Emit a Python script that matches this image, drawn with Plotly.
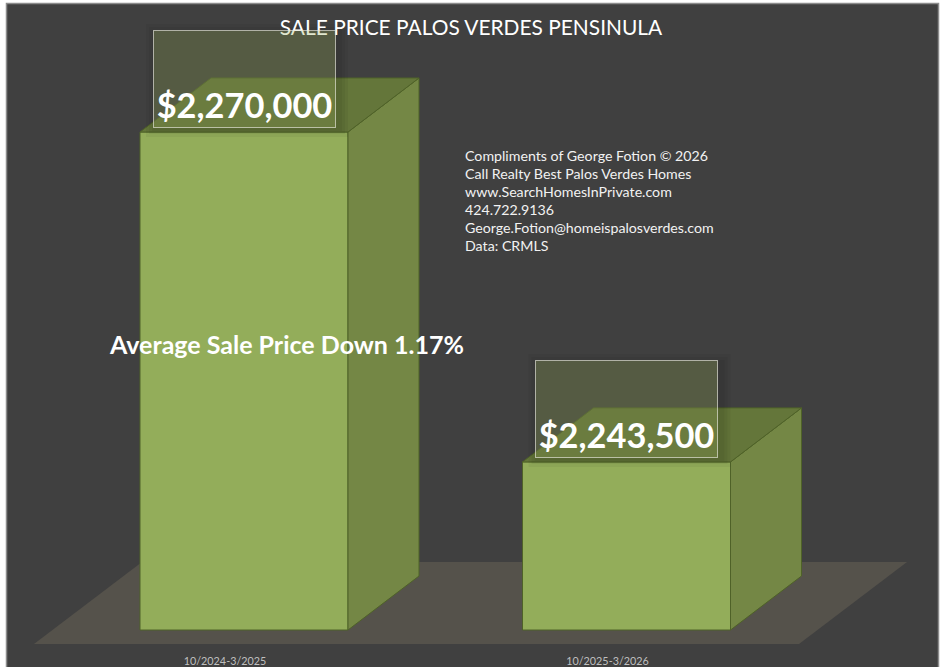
import plotly.graph_objects as go

# Data
categories = ["10/2024-3/2025", "10/2025-3/2026"]
sale_prices = [2270000, 2243500]
price_labels = ["$2,270,000", "$2,243,500"]
chart_title = "SALE PRICE PALOS VERDES PENSINULA"
callout = "Average Sale Price Down 1.17%"
credits = [
    "Compliments of George Fotion © 2026",
    "Call Realty Best Palos Verdes Homes",
    "www.SearchHomesInPrivate.com",
    "424.722.9136",
    "George.Fotion@homeispalosverdes.com",
    "Data: CRMLS",
]

# Value axis baseline of the original truncated chart
AXIS_MIN = 2230000

# Canvas and pseudo-3D geometry
W, H = 945, 667
BOTTOM = 17
PLOT_H = H - BOTTOM
BASE_PX = 630          # pixel row of the baseline
C0_PX, STEP_PX = 244.0, 382.5   # centre of the first bar, bar spacing
PX_PER_USD = 498 / (sale_prices[0] - AXIS_MIN)
BAR_W = 208 / STEP_PX
DX = 71 / STEP_PX
DY = 54 / PX_PER_USD
LABEL_SHIFT = 19 / STEP_PX

x_range = [(0 - C0_PX) / STEP_PX, (W - C0_PX) / STEP_PX]
y_range = [AXIS_MIN - (PLOT_H - BASE_PX) / PX_PER_USD, AXIS_MIN + BASE_PX / PX_PER_USD]


def px_x(p):
    return (p - C0_PX) / STEP_PX


def px_y(p):
    return AXIS_MIN + (BASE_PX - p) / PX_PER_USD


LINE = "#4F6228"
FRONT = "#93AD5A"
SIDE = "#748745"
TOP = "#64763A"
FLOOR = "#55524B"

fig = go.Figure()

# Front faces
fig.add_trace(go.Bar(
    x=[0, 1],
    y=[v - AXIS_MIN for v in sale_prices],
    base=AXIS_MIN,
    width=BAR_W,
    marker=dict(color=FRONT, line=dict(color=LINE, width=1)),
    hoverinfo="skip", showlegend=False,
))

# Side and top faces derived from each bar's value
for i, v in enumerate(sale_prices):
    l, r = i - BAR_W / 2, i + BAR_W / 2
    fig.add_trace(go.Scatter(
        x=[r, r + DX, r + DX, r, r],
        y=[AXIS_MIN, AXIS_MIN + DY, v + DY, v, AXIS_MIN],
        mode="lines", fill="toself", fillcolor=SIDE, line=dict(color=LINE, width=1),
        hoverinfo="skip", showlegend=False,
    ))
    fig.add_trace(go.Scatter(
        x=[l, r, r + DX, l + DX, l],
        y=[v, v, v + DY, v + DY, v],
        mode="lines", fill="toself", fillcolor=TOP, line=dict(color=LINE, width=1),
        hoverinfo="skip", showlegend=False,
    ))

annotations = []
shapes = [
    dict(
        type="rect", layer="below", xref="paper", yref="paper",
        x0=6.5 / W, x1=938.5 / W, y0=-(BOTTOM + 5) / PLOT_H, y1=1 - 3.5 / PLOT_H,
        fillcolor="#404040", line=dict(color="#8C8C8C", width=1.5),
    ),
    dict(
        type="path", layer="below", xref="x", yref="y",
        path=(f"M {px_x(34)} {px_y(644)} L {px_x(799)} {px_y(644)} "
              f"L {px_x(907)} {px_y(562)} L {px_x(142)} {px_y(562)} Z"),
        fillcolor=FLOOR, line=dict(width=0),
    ),
]

# Value labels in translucent boxes with a soft shadow
for i, (v, t) in enumerate(zip(sale_prices, price_labels)):
    for grow in (3, 6, 9):
        shapes.append(dict(
            type="rect", layer="above", xref="x", yref="y",
            xsizemode="pixel", ysizemode="pixel", xanchor=i, yanchor=v,
            x0=-92 - grow + 3, x1=92 + grow + 3, y0=4 - grow, y1=102 + grow - 3,
            fillcolor="rgba(0,0,0,0.045)", line=dict(width=0),
        ))
    annotations.append(dict(
        x=i, y=v, xref="x", yref="y", xanchor="center", yanchor="bottom",
        yshift=4, text=t, showarrow=False, width=177, height=92, valign="bottom",
        align="center", bgcolor="rgba(155,175,95,0.30)",
        bordercolor="rgba(235,235,225,0.65)", borderwidth=1, borderpad=2,
        font=dict(family="Lato", size=34.4, color="#FFFFFF", weight="bold"),
    ))

annotations.append(dict(
    x=286.5 / W, y=1 - 344 / PLOT_H, xref="paper", yref="paper", text=callout,
    showarrow=False, xanchor="center", yanchor="middle",
    font=dict(family="Lato", size=25, color="#FFFFFF", weight="bold"),
))

for n, line in enumerate(credits):
    annotations.append(dict(
        x=465 / W, y=1 - (155 + n * 18.2) / PLOT_H, xref="paper", yref="paper", text=line,
        showarrow=False, xanchor="left", yanchor="middle", xshift=-2,
        font=dict(family="Lato", size=14.2, color="#F2F2F2"),
    ))

fig.update_layout(
    width=W, height=H,
    margin=dict(l=0, r=0, t=0, b=BOTTOM, pad=0),
    paper_bgcolor="#FFFFFF", plot_bgcolor="rgba(0,0,0,0)",
    barmode="overlay",
    title=dict(text=chart_title, x=471 / W, y=1 - 28 / H, xanchor="center", yanchor="middle",
               font=dict(family="Lato", size=20.9, color="#FFFFFF")),
    xaxis=dict(range=x_range, tickvals=[i - LABEL_SHIFT for i in range(len(categories))],
               ticktext=categories, showgrid=False,
               zeroline=False, showline=False, ticks="", ticklen=0, ticklabelstandoff=3,
               tickfont=dict(family="Lato", size=10.8, color="#BFBFBF")),
    yaxis=dict(range=y_range, visible=False, showgrid=False, zeroline=False),
    annotations=annotations,
    shapes=shapes,
)

fig.write_html("out.html", config=dict(displayModeBar=False),
               post_script="document.body.style.margin='0';document.body.style.overflow='hidden';")
